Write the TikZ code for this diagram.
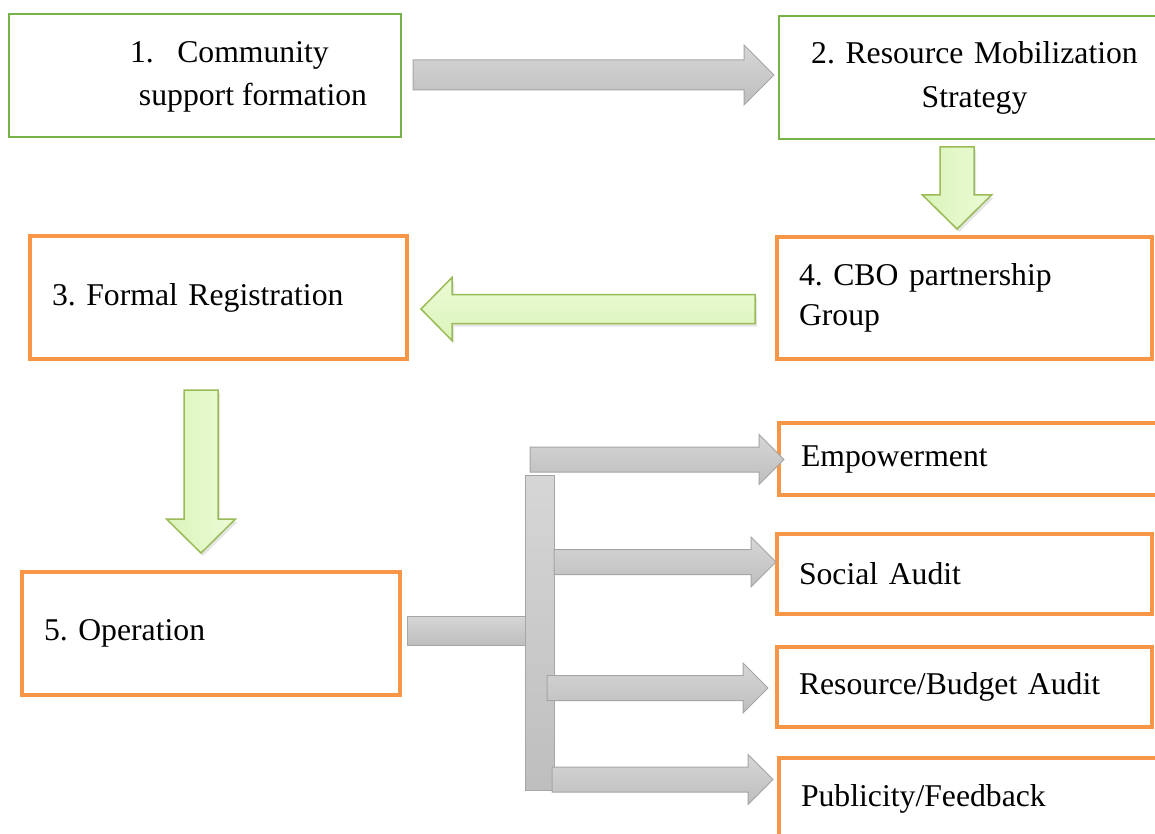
\documentclass[tikz,border=0pt]{standalone}
\usepackage{fontspec}
\setmainfont{Liberation Serif}
\usetikzlibrary{calc,shadows}

\definecolor{boxgreen}{RGB}{119,179,70}
\definecolor{boxorange}{RGB}{247,150,70}
\definecolor{arrowgray}{RGB}{165,165,165}
\definecolor{graytop}{RGB}{214,214,214}
\definecolor{graybot}{RGB}{190,190,190}
\definecolor{arrowgreen}{RGB}{155,187,89}
\definecolor{greenlight}{RGB}{236,251,214}
\definecolor{greendark}{RGB}{218,244,186}

\newcommand{\boxfont}[1][40]{\fontsize{31.7}{#1}\selectfont\frenchspacing}

\tikzset{
	flowbox/.style={anchor=north west, outer sep=0pt, inner xsep=22pt, inner ysep=0pt, align=left, font=\boxfont},
	greenbox/.style={flowbox, draw=boxgreen, line width=2.5pt},
	orangebox/.style={flowbox, draw=boxorange, line width=4.5pt},
	blockarrow/.style n args={3}{to path={
		($(\tikztostart)!#1!90:(\tikztotarget)$)
		-- ($(\tikztotarget)!#3!(\tikztostart)!#1!-90:(\tikztostart)$)
		-- ($(\tikztotarget)!#3!(\tikztostart)!#2!-90:(\tikztostart)$)
		-- (\tikztotarget)
		-- ($(\tikztotarget)!#3!(\tikztostart)!#2!90:(\tikztostart)$)
		-- ($(\tikztotarget)!#3!(\tikztostart)!#1!90:(\tikztostart)$)
		-- ($(\tikztostart)!#1!-90:(\tikztotarget)$)
		-- cycle}},
	grayarrow/.style={draw=arrowgray, line width=1pt, top color=graytop, bottom color=graybot},
	greenarrow/.style={draw=arrowgreen, line width=1.5pt, drop shadow={shadow xshift=2pt, shadow yshift=-3pt, opacity=0.2}},
	graybar/.style={grayarrow, anchor=north west, outer sep=0pt, inner sep=0pt},
}

\begin{document}
\begin{tikzpicture}[x=1pt, y=-1pt]
	\fill[white] (0,0) rectangle (1155,834);
	\useasboundingbox (0,0) rectangle (1155,834);

	% boxes
	\node[greenbox, minimum width=392pt, minimum height=123pt] (box1) at (9,14) {};
	\node[font={\boxfont[43]}, align=center] (t1) at ($(box1.center)+(48,1.7)$) {\llap{1.\hspace{23.4pt}}Community\\support formation};
	\node[greenbox, minimum width=391pt, minimum height=123pt, text width=347pt, align=center, font={\boxfont[44]}] (box2) at (779,16) {2. Resource Mobilization\\Strategy};
	\node[orangebox, minimum width=375pt, minimum height=122pt, text width=331pt] (box4) at (777,237) {4. CBO partnership\\Group};
	\node[orangebox, minimum width=377pt, minimum height=123pt, text width=333pt] (box3) at (30,236) {3. Formal Registration};
	\node[orangebox, minimum width=378pt, minimum height=123pt, text width=334pt] (box5) at (22,572) {5. Operation};
	\node[orangebox, minimum width=386pt, minimum height=72pt, text width=342pt] (emp) at (779,423) {Empowerment};
	\node[orangebox, minimum width=375pt, minimum height=80pt, text width=331pt] (soc) at (777,534) {Social Audit};
	\node[orangebox, minimum width=375pt, minimum height=80pt, text width=331pt] (res) at (777,647) {Resource/Budget Audit};
	\node[orangebox, minimum width=386pt, minimum height=82pt, text width=342pt] (pub) at (779,758) {Publicity/Feedback};

	% main chain
	\coordinate (a1s) at ($(box1.east)+(12,-0.5)$);
	\coordinate (a1t) at ($(box2.west)+(-5,-2.5)$);
	\draw[grayarrow, blockarrow={15pt}{30pt}{30pt}] (a1s) to (a1t);

	\coordinate (a2s) at ($(box2.south)+(-17.5,8)$);
	\coordinate (a2t) at ($(box4.north)+(-7.5,-8)$);
	\draw[greenarrow, left color=greendark, right color=greenlight, blockarrow={17pt}{34.5pt}{34pt}] (a2s) to (a2t);

	\coordinate (a3s) at ($(box4.west)+(-22,11)$);
	\coordinate (a3t) at ($(box3.east)+(14,11.5)$);
	\draw[greenarrow, top color=greenlight, bottom color=greendark, blockarrow={14.5pt}{31.5pt}{31pt}] (a3s) to (a3t);

	\coordinate (a4s) at ($(box3.south)+(-17.5,31)$);
	\coordinate (a4t) at ($(box5.north)+(-10,-19)$);
	\draw[greenarrow, left color=greendark, right color=greenlight, blockarrow={17pt}{34.5pt}{34pt}] (a4s) to (a4t);

	% operation tree
	\node[graybar, minimum width=118pt, minimum height=29pt] (stub) at ($(box5.east)+(7,-17.5)$) {};
	\node[graybar, minimum width=29pt, minimum height=315pt] (trunk) at ($(stub.north east)+(0,-141)$) {};

	\coordinate (b1s) at ($(trunk.north west)+(5,-15.5)$);
	\coordinate (b1t) at ($(emp.west)+(5,0.5)$);
	\coordinate (b2s) at ($(trunk.north east)+(0,87)$);
	\coordinate (b2t) at ($(soc.west)+(-1,-12)$);
	\coordinate (b3s) at ($(trunk.north east)+(-7,213)$);
	\coordinate (b3t) at ($(res.west)+(-9,1)$);
	\coordinate (b4s) at ($(trunk.north east)+(-2,304.5)$);
	\coordinate (b4t) at ($(pub.west)+(-6,-19.5)$);
	\foreach \i in {1,...,4}
		\draw[grayarrow, blockarrow={12.5pt}{25pt}{25pt}] (b\i s) to (b\i t);
\end{tikzpicture}
\end{document}
